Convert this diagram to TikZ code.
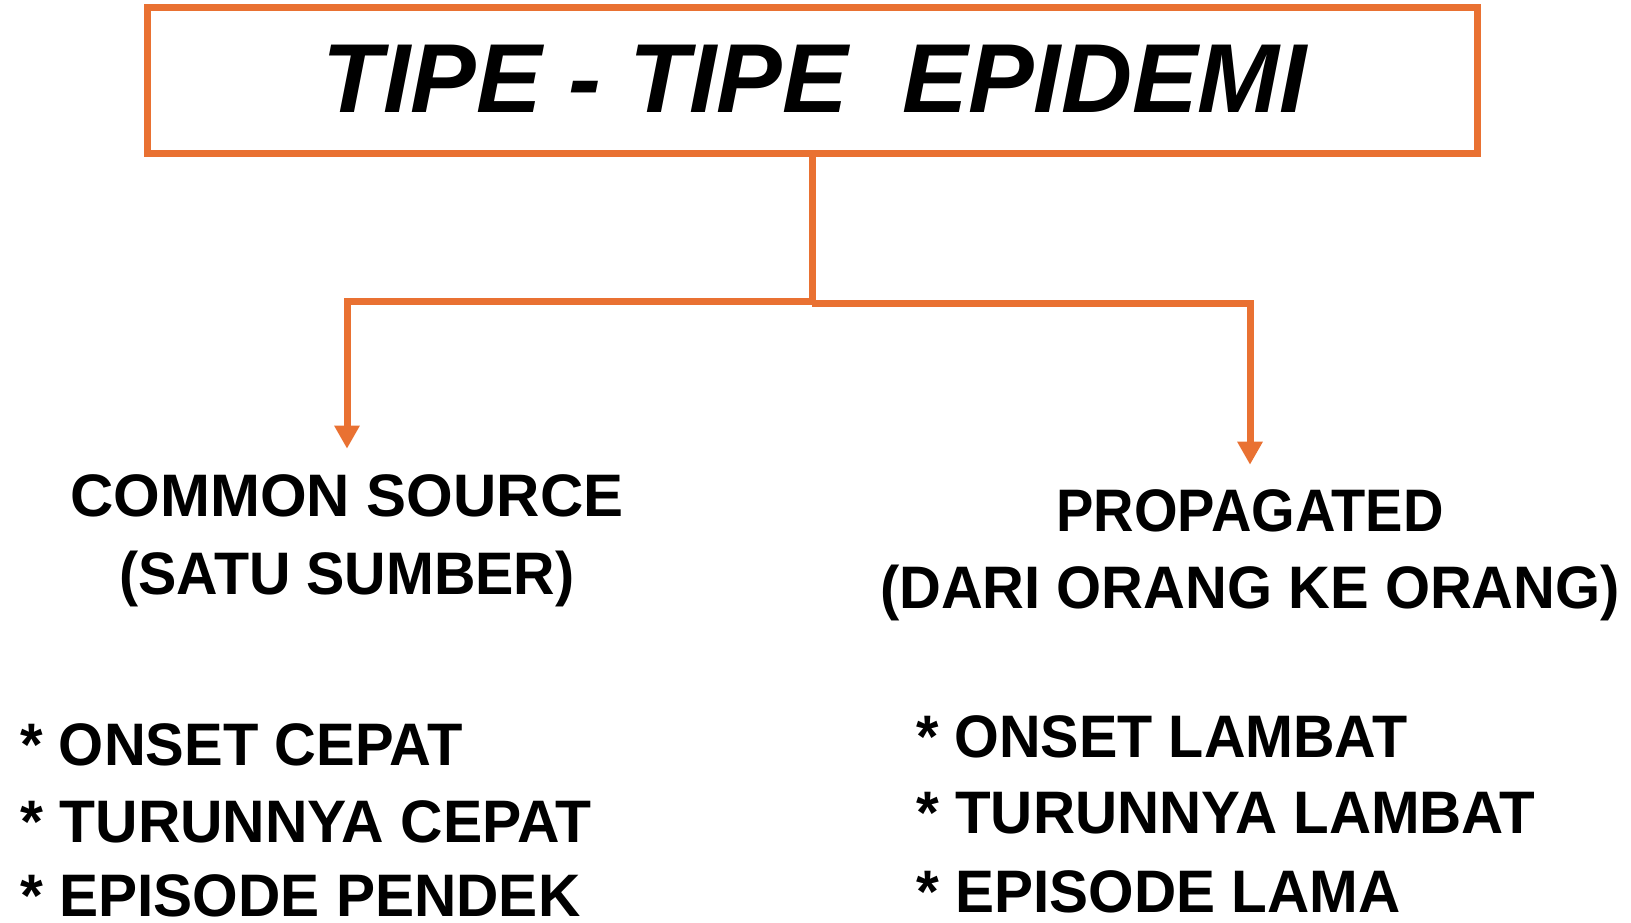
\documentclass[tikz,border=0pt]{standalone}
\usepackage{fontspec}
\setmainfont{Liberation Sans}
\usetikzlibrary{arrows.meta}
\definecolor{accent}{HTML}{E97132}
% set a line of text to a given width, keeping its natural height
\newcommand{\fitw}[2]{\resizebox{#1}{\height}{#2}}

\begin{document}
\begin{tikzpicture}[x=0.5pt,y=-0.5pt,
  frame/.style={draw=accent, line width=3.5pt, minimum width=664.75pt,
    minimum height=73.25pt, inner sep=0pt},
  headtext/.style={inner sep=0pt, anchor=base,
    font=\fontsize{49}{56}\selectfont\bfseries\itshape},
  label/.style={inner sep=0pt, anchor=base,
    font=\fontsize{30}{36}\selectfont\bfseries},
  bullet/.style={inner sep=0pt, anchor=base west,
    font=\fontsize{30}{36}\selectfont\bfseries},
  conn/.style={draw=accent, line width=3.5pt},
  arr/.style={conn, -{Triangle[length=11.5pt,width=12pt]}}
]
\useasboundingbox (0,0) rectangle (1631,922);

% heading box and its text
\node[frame] (title) at (812.25,80.25) {};
\node[headtext] (ttext) at (815,112) {\fitw{492pt}{TIPE - TIPE\ \ EPIDEMI}};

% the two kinds
\node[label] (cs)  at (347,516) {\fitw{276.5pt}{COMMON SOURCE}};
\node[label] (cs2) at (347,594) {\fitw{227.5pt}{(SATU SUMBER)}};
\node[label] (pg)  at (1250,531) {\fitw{193.5pt}{PROPAGATED}};
\node[label] (pg2) at (1250,608) {\fitw{370pt}{(DARI ORANG KE ORANG)}};

% features of each kind
\node[bullet] (l1) at (20,765) {\fitw{221pt}{* ONSET CEPAT}};
\node[bullet] (l2) at (20,842) {\fitw{285.5pt}{* TURUNNYA CEPAT}};
\node[bullet] (l3) at (20,916) {\fitw{280pt}{* EPISODE PENDEK}};
\node[bullet] (r1) at (916,757) {\fitw{245.5pt}{* ONSET LAMBAT}};
\node[bullet] (r2) at (916,833) {\fitw{309.5pt}{* TURUNNYA LAMBAT}};
\node[bullet] (r3) at (916,912) {\fitw{242pt}{* EPISODE LAMA}};

% branching connectors
\coordinate (splitL) at (812.25,301.5);
\coordinate (splitR) at (812.25,303.5);
\draw[conn] (title.south) -- (splitR);
\draw[arr, shorten >=12.5pt] (splitL) -| (cs.north);
\draw[arr, shorten >=12pt] (splitR) -| (pg.north);
\end{tikzpicture}
\end{document}
